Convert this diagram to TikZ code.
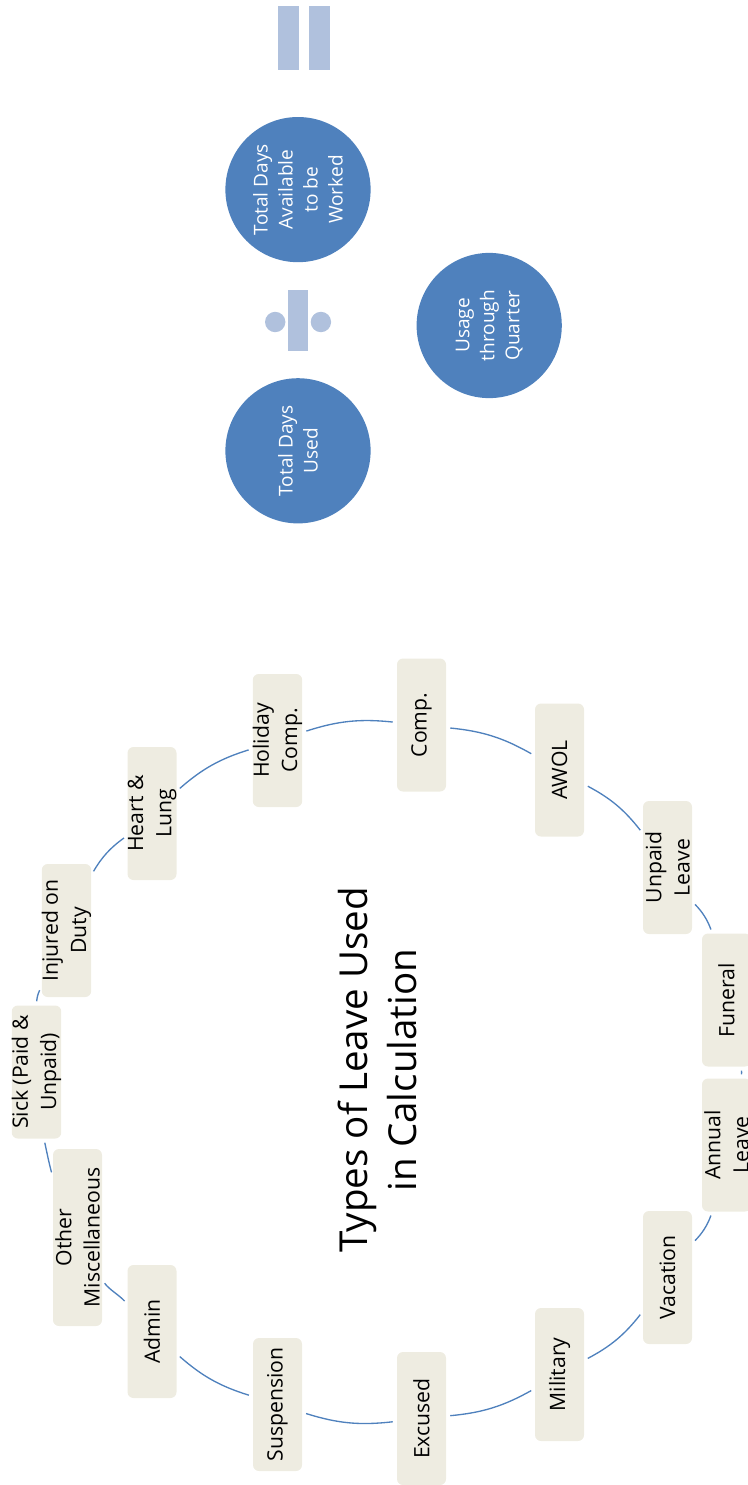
\documentclass[tikz,border=0pt]{standalone}
\usepackage{fontspec}
\setmainfont{Open Sans}
\definecolor{accent}{HTML}{4F81BD}
\definecolor{boxfill}{HTML}{EEECE1}
\definecolor{oper}{HTML}{B0C1DD}
\begin{document}
\begin{tikzpicture}[x=0.75pt,y=0.75pt,
  leave/.style={rectangle, rounded corners=4.5pt, fill=boxfill, rotate=90,
    minimum width=99.75pt, minimum height=36.75pt, inner sep=0pt, align=center,
    font=\fontsize{15.9}{21.2}\selectfont, text=black},
  total/.style={circle, fill=accent, minimum size=108.9pt, inner sep=0pt, rotate=90,
    align=center, font=\fontsize{14.3}{18.75}\selectfont, text=white},
  conn/.style={draw=accent, line width=1pt, shorten <=3pt, shorten >=3pt},
  opshape/.style={fill=oper}]
\useasboundingbox (0,0) rectangle (747,-1485);

% leave types around the cycle
\node[leave] (sick)       at (36.5,-1072)   {Sick (Paid \&\\Unpaid)};
\node[leave] (injured)    at (66.5,-930.5)  {Injured on\\Duty};
\node[leave] (heart)      at (152,-813.5)   {Heart \&\\Lung};
\node[leave] (holiday)    at (277.5,-740.5) {Holiday\\Comp.};
\node[leave] (comp)       at (421.5,-725)   {Comp.};
\node[leave] (awol)       at (559.5,-770)   {AWOL};
\node[leave] (unpaid)     at (667.5,-867.5) {Unpaid\\Leave};
\node[leave] (funeral)    at (726.5,-1000)  {Funeral};
\node[leave] (annual)     at (726.5,-1145)  {Annual\\Leave};
\node[leave] (vacation)   at (667.5,-1277.5){Vacation};
\node[leave] (military)   at (559.5,-1374.5){Military};
\node[leave] (excused)    at (421.5,-1418.5){Excused};
\node[leave] (suspension) at (277.5,-1404.5){Suspension};
\node[leave] (admin)      at (152,-1331.5)  {Admin};
\node[leave, minimum width=132.75pt] (other) at (77.5,-1237.5) {Other\\Miscellaneous};

% title
\node[rotate=90, align=center, inner sep=0pt, font=\fontsize{28.9}{37.3}\selectfont]
  (title) at (377.5,-1070) {Types of Leave Used\\in Calculation};

% cycle connectors
\draw[conn] (sick) to[bend left=12] (injured);
\draw[conn] (injured) to[bend left=12] (heart);
\draw[conn] (heart) to[bend left=12] (holiday);
\draw[conn] (holiday) to[bend left=12] (comp);
\draw[conn] (comp) to[bend left=12] (awol);
\draw[conn] (awol) to[bend left=12] (unpaid);
\draw[conn] (unpaid) to[bend left=12] (funeral);
\draw[conn] (funeral) to[bend left=12] (annual);
\draw[conn] (annual) to[bend left=12] (vacation);
\draw[conn] (vacation) to[bend left=12] (military);
\draw[conn] (military) to[bend left=12] (excused);
\draw[conn] (excused) to[bend left=12] (suspension);
\draw[conn] (suspension) to[bend left=12] (admin);
\draw[conn] ([yshift=20.6pt]admin.north) .. controls +(132:9pt) and +(-53.5:9pt) .. ([yshift=-31.9pt]other.south);
\draw[conn] ([yshift=46pt]other.north) .. controls +(107:8pt) and +(-78:8pt) .. ([xshift=5.6pt]sick.west);

% equation
\node[total] (used)  at (298,-450.8) {Total Days\\Used};
\node[total] (avail) at (298,-189.6) {Total Days\\Available\\to be\\Worked};
\node[total] (usage) at (489.2,-325.5) {Usage\\through\\Quarter};

% division sign (rotated)
\fill[opshape] (287.9,-290) rectangle (308.4,-350.5);
\fill[opshape] (275.2,-322) circle (10.2);
\fill[opshape] (320.9,-322) circle (10.2);

% equals sign (rotated)
\fill[opshape] (278.2,-6.3) rectangle (298.7,-69.8);
\fill[opshape] (308.9,-6.3) rectangle (329.8,-69.8);
\end{tikzpicture}
\end{document}
